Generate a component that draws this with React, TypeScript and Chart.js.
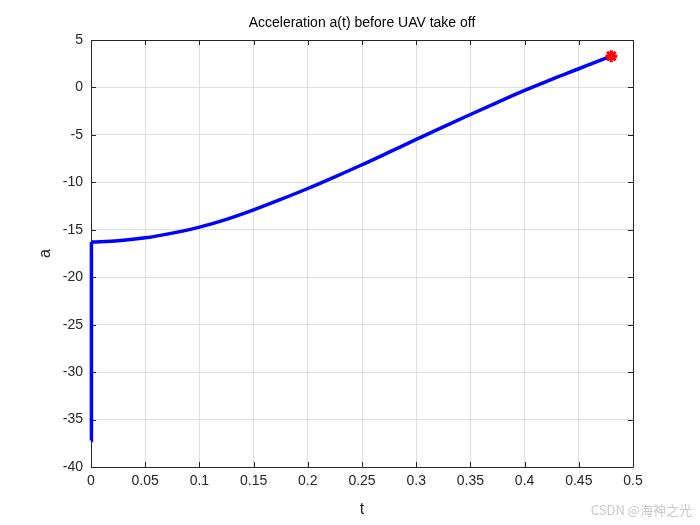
import React, { useEffect, useRef } from "react";
import { Chart, registerables } from "chart.js";

Chart.register(...registerables);

// Data
// initial jump at t = 0
const JUMP_T = [0, 0, 0.0008];
const JUMP_A = [-37.2, -21, -16.3];
// smooth part of the curve
const T_VALUES = [0.0008, 0.025, 0.05, 0.075, 0.1, 0.125, 0.15, 0.175, 0.2, 0.225, 0.25, 0.275, 0.3, 0.325, 0.35, 0.375, 0.4, 0.425, 0.45, 0.465, 0.48];
const A_VALUES = [-16.3, -16.15, -15.85, -15.35, -14.72, -13.9, -12.9, -11.8, -10.65, -9.42, -8.15, -6.82, -5.48, -4.15, -2.85, -1.57, -0.32, 0.86, 1.97, 2.65, 3.3];
const END_T = [0.48];
const END_A = [3.3];

const X_TICKS = [0, 0.05, 0.1, 0.15, 0.2, 0.25, 0.3, 0.35, 0.4, 0.45, 0.5];
const X_TICK_LABELS = ["0", "0.05", "0.1", "0.15", "0.2", "0.25", "0.3", "0.35", "0.4", "0.45", "0.5"];
const Y_TICKS = [-40, -35, -30, -25, -20, -15, -10, -5, 0, 5];
const Y_TICK_LABELS = ["-40", "-35", "-30", "-25", "-20", "-15", "-10", "-5", "0", "5"];

const TITLE = "Acceleration a(t) before UAV take off";
const X_LABEL = "t";
const Y_LABEL = "a";
const WATERMARK = "CSDN @海神之光";

const FONT = "'Liberation Sans', Arial, Helvetica, sans-serif";
const AXIS_COLOR = "#262626";

const boxPlugin = {
  id: "matlabBox",
  beforeDatasetsDraw(chart: any) {
    const { ctx, chartArea } = chart;
    const { left, right, top, bottom } = chartArea;
    const xs = chart.scales.x;
    const ys = chart.scales.y;
    const tl = 5;
    ctx.save();
    ctx.strokeStyle = AXIS_COLOR;
    ctx.lineWidth = 1;
    ctx.beginPath();
    ctx.rect(Math.round(left) + 0.5, Math.round(top) + 0.5, Math.round(right - left), Math.round(bottom - top));
    for (const v of X_TICKS) {
      const px = Math.round(xs.getPixelForValue(v)) + 0.5;
      ctx.moveTo(px, bottom);
      ctx.lineTo(px, bottom - tl);
      ctx.moveTo(px, top);
      ctx.lineTo(px, top + tl);
    }
    for (const v of Y_TICKS) {
      const py = Math.round(ys.getPixelForValue(v)) + 0.5;
      ctx.moveTo(left, py);
      ctx.lineTo(left + tl, py);
      ctx.moveTo(right, py);
      ctx.lineTo(right - tl, py);
    }
    ctx.stroke();
    ctx.restore();
  },
  afterDraw(chart: any) {
    const { ctx, chartArea } = chart;
    ctx.save();
    ctx.font = `14px ${FONT}`;
    ctx.fillStyle = "#000000";
    ctx.textAlign = "center";
    ctx.textBaseline = "middle";
    ctx.fillText(TITLE, (chartArea.left + chartArea.right) / 2, 23);
    ctx.font = "13px 'Noto Sans CJK SC', 'Noto Sans', sans-serif";
    ctx.fillStyle = "#c8c8c8";
    ctx.textAlign = "right";
    ctx.fillText(WATERMARK, 692, 510);
    ctx.restore();
  },
};

export default function App() {
  const ref = useRef<HTMLCanvasElement | null>(null);
  useEffect(() => {
    if (!ref.current) return;
    const chart = new Chart(ref.current, {
      type: "line",
      data: {
        datasets: [
          {
            data: END_T.map((t, i) => ({ x: t, y: END_A[i] })),
            borderColor: "#ff0000",
            backgroundColor: "#ff0000",
            pointStyle: "star",
            pointRadius: 6,
            pointBorderWidth: 3,
            showLine: false,
            clip: false,
          } as any,
          {
            data: JUMP_T.map((t, i) => ({ x: t, y: JUMP_A[i] })),
            borderColor: "#0000ff",
            borderWidth: 3.5,
            pointRadius: 0,
            tension: 0,
            fill: false,
            clip: false,
          } as any,
          {
            data: T_VALUES.map((t, i) => ({ x: t, y: A_VALUES[i] })),
            borderColor: "#0000ff",
            borderWidth: 3.5,
            pointRadius: 0,
            cubicInterpolationMode: "monotone",
            fill: false,
            clip: false,
          } as any,
        ],
      },
      options: {
        animation: false,
        responsive: false,
        events: [],
        layout: { padding: { left: 0, right: 67, top: 40, bottom: 0 } },
        plugins: {
          legend: { display: false },
          tooltip: { enabled: false },
          title: { display: false },
        },
        scales: {
          x: {
            type: "linear",
            min: 0,
            max: 0.5,
            afterFit: (s: any) => {
              s.height = 58;
            },
            afterBuildTicks: (s: any) => {
              s.ticks = X_TICKS.map((v) => ({ value: v }));
            },
            ticks: {
              color: AXIS_COLOR,
              font: { family: FONT, size: 14 },
              padding: 6,
              maxRotation: 0,
              autoSkip: false,
              callback: (v: any) => {
                const i = X_TICKS.findIndex((t) => Math.abs(t - v) < 1e-9);
                return i >= 0 ? X_TICK_LABELS[i] : "";
              },
            },
            grid: { color: "#dfdfdf", drawTicks: false },
            border: { display: false },
            title: {
              display: true,
              text: X_LABEL,
              color: AXIS_COLOR,
              font: { family: FONT, size: 16 },
              padding: { top: 0, bottom: 6 },
            },
          },
          y: {
            type: "linear",
            min: -40,
            max: 5,
            afterFit: (s: any) => {
              s.width = 91;
            },
            afterBuildTicks: (s: any) => {
              s.ticks = Y_TICKS.map((v) => ({ value: v }));
            },
            ticks: {
              color: AXIS_COLOR,
              font: { family: FONT, size: 14 },
              padding: 8,
              autoSkip: false,
              callback: (v: any) => {
                const i = Y_TICKS.findIndex((t) => Math.abs(t - v) < 1e-9);
                return i >= 0 ? Y_TICK_LABELS[i] : "";
              },
            },
            grid: { color: "#dfdfdf", drawTicks: false },
            border: { display: false },
            title: {
              display: true,
              text: Y_LABEL,
              color: AXIS_COLOR,
              font: { family: FONT, size: 16 },
              padding: { top: 36, bottom: 0 },
            },
          },
        },
      },
      plugins: [boxPlugin],
    });
    return () => chart.destroy();
  }, []);
  return (
    <div style={{ position: "fixed", left: 0, top: 0, width: 700, height: 525, background: "#ffffff" }}>
      <canvas ref={ref} width={700} height={525} style={{ display: "block" }} />
    </div>
  );
}
